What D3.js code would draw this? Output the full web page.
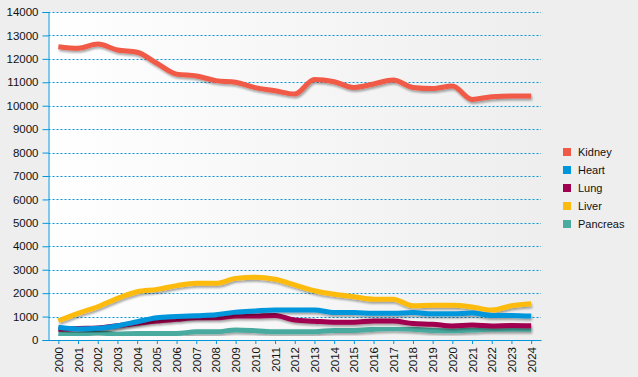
<!DOCTYPE html>
<html>
<head>
<meta charset="utf-8">
<script src="https://cdn.jsdelivr.net/npm/d3@7"></script>
<style>
  html, body { margin: 0; padding: 0; background: #eeeeee; }
  svg { display: block; font-family: "Liberation Sans", Arial, sans-serif; }
</style>
</head>
<body>
<div id="chart"></div>
<script>
// --- data ---
const years = ['2000','2001','2002','2003','2004','2005','2006','2007','2008','2009','2010','2011','2012',
  '2013','2014','2015','2016','2017','2018','2019','2020','2021','2022','2023','2024'];
const kidney = [12520, 12450, 12630, 12380, 12280, 11810, 11350, 11270, 11070, 11000, 10770, 10640, 10500,
  11120, 11020, 10780, 10930, 11100, 10780, 10730, 10840, 10270, 10380, 10410, 10410];
const heart = [540, 470, 500, 610, 780, 950, 1000, 1040, 1080, 1190, 1240, 1280, 1280,
  1280, 1170, 1170, 1140, 1140, 1170, 1120, 1120, 1150, 1050, 1050, 1020];
const lung = [460, 490, 510, 610, 710, 810, 880, 950, 950, 1020, 1020, 1050, 850,
  800, 760, 760, 810, 810, 700, 670, 600, 640, 600, 620, 610];
const liver = [820, 1140, 1420, 1780, 2060, 2160, 2320, 2420, 2420, 2630, 2680, 2590, 2350,
  2100, 1950, 1850, 1740, 1740, 1460, 1480, 1480, 1410, 1280, 1460, 1550];
const pancreas = [280, 240, 310, 250, 280, 280, 280, 350, 350, 430, 400, 350, 350,
  350, 410, 410, 460, 490, 460, 410, 400, 430, 460, 460, 460];
const seriesNames = ['Kidney', 'Heart', 'Lung', 'Liver', 'Pancreas'];
const seriesColors = ['#f05a46', '#0096dc', '#a0004f', '#fdbb11', '#4aab9f'];
const yTicks = d3.range(0, 14001, 1000);

const series = [kidney, heart, lung, liver, pancreas].map((values, i) => ({
  name: seriesNames[i], color: seriesColors[i], values
}));

const W = 638, H = 377;
const margin = { top: 12, right: 97, bottom: 37, left: 48.5 };
const width = W - margin.left - margin.right;
const height = H - margin.top - margin.bottom;

const svg = d3.select('#chart').append('svg')
  .attr('width', W).attr('height', H);

const defs = svg.append('defs');
const grad = defs.append('linearGradient').attr('id', 'plotBg')
  .attr('x1', '0').attr('x2', '1').attr('y1', '0').attr('y2', '0');
grad.append('stop').attr('offset', '0%').attr('stop-color', '#ffffff');
grad.append('stop').attr('offset', '100%').attr('stop-color', '#eeeeee');

const shadow = defs.append('filter').attr('id', 'shadow')
  .attr('x', '-5%').attr('y', '-20%').attr('width', '110%').attr('height', '140%');
shadow.append('feGaussianBlur').attr('in', 'SourceAlpha').attr('stdDeviation', 0.8).attr('result', 'b');
shadow.append('feOffset').attr('in', 'b').attr('dx', 1).attr('dy', 1.5).attr('result', 'o');
shadow.append('feComponentTransfer').attr('in', 'o').attr('result', 's')
  .append('feFuncA').attr('type', 'linear').attr('slope', 0.35);
const merge = shadow.append('feMerge');
merge.append('feMergeNode').attr('in', 's');
merge.append('feMergeNode').attr('in', 'SourceGraphic');

svg.append('rect').attr('width', W).attr('height', H).attr('fill', '#eeeeee');

const g = svg.append('g').attr('transform', `translate(${margin.left},${margin.top})`);

g.append('rect').attr('width', width).attr('height', height).attr('fill', 'url(#plotBg)');

const x = d3.scalePoint().domain(years).range([0, width]).padding(0.5);
const y = d3.scaleLinear().domain([0, 14000]).range([height, 0]);

// gridlines
g.append('g').selectAll('line').data(yTicks.filter(d => d > 0)).join('line')
  .attr('x1', 0).attr('x2', width)
  .attr('y1', d => Math.round(y(d)) + 0.5).attr('y2', d => Math.round(y(d)) + 0.5)
  .attr('stroke', '#0096dc').attr('stroke-width', 1).attr('stroke-dasharray', '2,2');

// y axis
const yAxis = g.append('g')
  .call(d3.axisLeft(y).tickValues(yTicks).tickSize(6).tickPadding(4).tickFormat(d3.format('d')));
yAxis.select('.domain').attr('stroke', '#0096dc');
yAxis.selectAll('.tick line').attr('stroke', '#0096dc');
yAxis.selectAll('text').attr('font-size', '11.5px').attr('fill', '#111')
  .attr('font-family', '"Liberation Sans", Arial, sans-serif');

// x axis
const xAxis = g.append('g').attr('transform', `translate(0,${height})`)
  .call(d3.axisBottom(x).tickSizeInner(4).tickSizeOuter(0).tickPadding(5));
xAxis.select('.domain').attr('stroke', '#0096dc');
xAxis.selectAll('.tick line').attr('stroke', '#0096dc');
xAxis.selectAll('text')
  .attr('transform', 'rotate(-90)')
  .attr('text-anchor', 'end')
  .attr('x', -7).attr('y', 0).attr('dy', '0.35em')
  .attr('font-size', '11.5px').attr('fill', '#111')
  .attr('font-family', '"Liberation Sans", Arial, sans-serif');

// lines
const line = d3.line()
  .x((d, i) => x(years[i]))
  .y(d => y(d))
  .curve(d3.curveMonotoneX);

g.append('g').selectAll('path').data(series.slice().reverse()).join('path')
  .attr('d', d => line(d.values))
  .attr('fill', 'none')
  .attr('stroke', d => d.color)
  .attr('stroke-width', 5)
  .attr('stroke-linejoin', 'round')
  .attr('filter', 'url(#shadow)');

// legend
const legend = svg.append('g').attr('transform', 'translate(563,148)');
const item = legend.selectAll('g').data(series).join('g')
  .attr('transform', (d, i) => `translate(0,${i * 18})`);
item.append('rect').attr('width', 8).attr('height', 8).attr('fill', d => d.color);
item.append('text').attr('x', 15).attr('y', 4).attr('dy', '0.35em')
  .attr('font-size', '11px').attr('fill', '#111')
  .text(d => d.name);
</script>
</body>
</html>
